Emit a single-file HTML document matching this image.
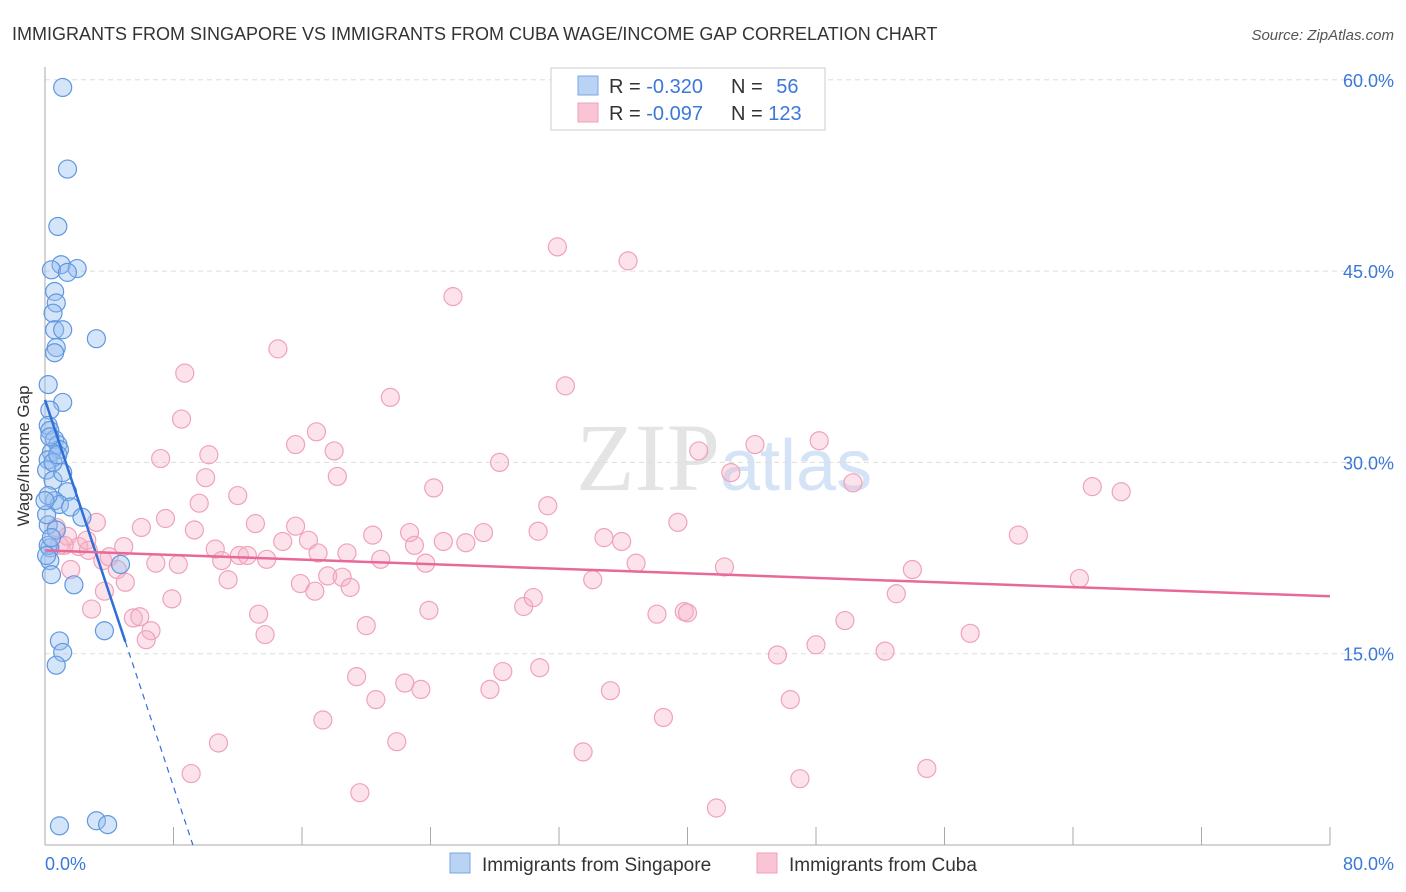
<!DOCTYPE html>
<html><head><meta charset="utf-8"><style>
body{margin:0;background:#fff;font-family:"Liberation Sans",sans-serif;}
svg{display:block}
</style></head><body>
<svg id="c" width="1406" height="892" xmlns="http://www.w3.org/2000/svg">
<text x="12" y="40" font-size="18" fill="#333">IMMIGRANTS FROM SINGAPORE VS IMMIGRANTS FROM CUBA WAGE/INCOME GAP CORRELATION CHART</text>
<text x="1394" y="40" font-size="15" fill="#555" font-style="italic" text-anchor="end">Source: ZipAtlas.com</text>
<text x="720" y="490" font-size="96" fill="#e4e4e4" text-anchor="end" font-family="Liberation Serif">ZIP</text>
<text x="720" y="490" font-size="72" fill="#d4e3f5">atlas</text>
<g id="grid"></g>
<g id="marks"></g>
<text x="29" y="456" font-size="17" fill="#333" text-anchor="middle" transform="rotate(-90 29 456)">Wage/Income Gap</text>
<text x="45" y="870" font-size="18" fill="#3b78d8">0.0%</text>
<text x="1394" y="870" font-size="18" fill="#3b78d8" text-anchor="end">80.0%</text>
<g>
<rect x="551" y="68" width="274" height="62" fill="#fff" stroke="#ccc"/>
<rect x="578" y="76" width="20" height="19" fill="#b9d3f5" stroke="#7aa6e0"/>
<rect x="578" y="103" width="20" height="19" fill="#f9c4d4" stroke="#eea0b8"/>
<text x="609" y="93" font-size="20" fill="#333">R = <tspan fill="#3b78d8">-0.320</tspan></text>
<text x="731" y="93" font-size="20" fill="#333">N = <tspan fill="#3b78d8" dx="8">56</tspan></text>
<text x="609" y="120" font-size="20" fill="#333">R = <tspan fill="#3b78d8">-0.097</tspan></text>
<text x="731" y="120" font-size="20" fill="#333">N = <tspan fill="#3b78d8">123</tspan></text>
</g>
<g>
<rect x="450" y="853" width="20" height="20" fill="#b9d3f5" stroke="#7aa6e0"/>
<text x="482" y="871" font-size="19" fill="#333">Immigrants from Singapore</text>
<rect x="757" y="853" width="20" height="20" fill="#f9c4d4" stroke="#eea0b8"/>
<text x="789" y="871" font-size="19" fill="#333">Immigrants from Cuba</text>
</g>
</svg>
<script>
const yTicks=[15,30,45,60];
const yTickLabels=["15.0%","30.0%","45.0%","60.0%"];
const xTicks=[0,8,16,24,32,40,48,56,64,72,80];
const blueX=[1.1,1.4,0.8,1.0,0.4,2.0,1.4,0.6,0.7,0.5,0.6,1.1,0.7,0.6,3.2,0.2,1.1,0.3,0.2,0.3,0.6,0.8,0.9,0.4,0.2,0.1,0.5,1.4,0.6,0.9,1.6,2.3,0.2,0.7,0.3,0.3,0.4,1.8,4.7,3.7,0.9,1.1,0.7,0.9,3.2,3.9,0.2,0.1,0.2,1.1,0.5,0.3,0.8,0.1,0.4,0.0];
const blueY=[59.4,53.0,48.5,45.5,45.1,45.2,44.9,43.4,42.5,41.7,40.4,40.4,39.0,38.6,39.7,36.1,34.7,34.1,32.9,32.5,31.8,31.4,31.0,30.8,30.2,29.4,28.6,27.7,27.0,26.7,26.5,25.7,25.1,24.7,23.3,22.3,21.2,20.4,22.0,16.8,16.0,15.1,14.1,1.5,1.9,1.6,23.5,22.7,27.4,29.2,30.0,32.0,30.6,25.9,24.1,27.0];
const pinkX=[31.9,36.3,25.4,14.5,32.4,8.7,21.5,8.5,16.9,10.2,15.6,18.0,28.3,7.2,10.0,18.2,12.0,9.6,24.2,44.2,48.2,40.7,42.7,50.3,65.2,67.0,31.3,39.4,60.6,3.2,6.0,7.5,9.3,13.1,15.6,14.8,16.4,20.4,22.7,23.0,24.8,26.2,27.3,30.7,34.8,35.9,0.7,1.4,0.9,2.1,2.7,3.6,4.0,4.9,10.6,11.0,12.1,12.6,13.8,17.0,18.8,20.9,23.7,6.9,8.3,4.5,5.0,11.4,15.9,16.8,17.6,18.5,19.0,1.6,3.7,7.9,2.9,13.3,23.9,29.8,30.4,34.1,36.8,42.3,54.0,64.4,53.0,5.5,5.9,6.6,6.3,13.7,20.0,38.1,39.8,40.0,49.8,48.0,45.6,52.3,57.6,19.4,22.4,23.4,28.5,30.8,27.7,35.2,20.6,46.4,17.3,38.5,10.8,21.9,33.5,9.1,47.0,54.9,19.6,41.8,1.2,2.6];
const pinkY=[46.9,45.8,43.0,38.9,36.0,37.0,35.1,33.4,32.4,30.6,31.4,30.9,30.0,30.3,28.8,28.9,27.4,26.8,28.0,31.4,31.7,30.9,29.2,28.4,28.1,27.7,26.6,25.3,24.3,25.3,24.9,25.6,24.7,25.2,25.0,23.8,23.9,24.3,24.5,23.5,23.8,23.7,24.5,24.6,24.1,23.8,24.9,24.2,23.5,23.4,23.1,22.3,22.6,23.4,23.2,22.3,22.7,22.7,22.4,22.9,22.9,22.4,22.1,22.1,22.0,21.6,20.6,20.8,20.5,19.9,21.1,21.0,20.2,21.6,19.9,19.3,18.5,18.1,18.4,18.7,19.4,20.8,22.1,21.8,21.6,20.9,19.7,17.8,17.9,16.8,16.1,16.5,17.2,18.1,18.3,18.2,17.6,15.7,14.9,15.2,16.6,13.2,12.7,12.2,13.6,13.9,12.2,12.1,11.4,11.4,9.8,10.0,8.0,8.1,7.3,5.6,5.2,6.0,4.1,2.9,23.5,23.9];
const blueTrend=[34.9,-3.79]; // intercept, slope
const pinkTrend=[23.1,19.5]; // y at x=0, y at x=80
const X0=45,X1=1330,Y0=845,YS=191.3/15;
const sx=v=>X0+(X1-X0)*v/80, sy=v=>Y0-v*YS;
const NS="http://www.w3.org/2000/svg";
function mk(tag,attrs,parent){const e=document.createElementNS(NS,tag);for(const k in attrs)e.setAttribute(k,attrs[k]);parent.appendChild(e);return e;}
const grid=document.getElementById('grid'),marks=document.getElementById('marks');
yTicks.forEach((t,i)=>{
 const l=mk('line',{x1:X0,x2:1394,y1:sy(t),y2:sy(t),stroke:'#ddd','stroke-dasharray':'5,4'},grid);
 
 
 const tx=mk('text',{x:1394,y:sy(t)+7,'font-size':18,fill:'#3b78d8','text-anchor':'end'},grid);
 tx.textContent=yTickLabels[i];
 
 
});
const ax=mk('line',{x1:X0,x2:X0,y1:67,y2:Y0,stroke:'#aaa'},grid);


const bx=mk('line',{x1:X0,x2:X1,y1:Y0,y2:Y0,stroke:'#aaa'},grid);


xTicks.forEach(t=>{
 const l=mk('line',{x1:sx(t),x2:sx(t),y1:Y0,y2:Y0-18,stroke:'#aaa'},grid);
 
 
});
pinkX.forEach((x,i)=>{
 const c=mk('circle',{cx:sx(x),cy:sy(pinkY[i]),r:9,fill:'rgba(246,176,198,0.35)',stroke:'#f0a2ba','stroke-width':1.2},marks);
 
 
});
blueX.forEach((x,i)=>{
 const c=mk('circle',{cx:sx(x),cy:sy(blueY[i]),r:9,fill:'rgba(150,190,240,0.4)',stroke:'#5f97e0','stroke-width':1.2},marks);
 
 
});
const bEnd=-blueTrend[0]/blueTrend[1];
const bs=mk('line',{x1:sx(0),y1:sy(blueTrend[0]),x2:sx(5),y2:sy(blueTrend[0]+blueTrend[1]*5),stroke:'#2f6fd6','stroke-width':2.5},marks);


const bd=mk('line',{x1:sx(5),y1:sy(blueTrend[0]+blueTrend[1]*5),x2:sx(bEnd),y2:sy(0),stroke:'#2f6fd6','stroke-width':1.2,'stroke-dasharray':'6,5'},marks);


const pt=mk('line',{x1:sx(0),y1:sy(pinkTrend[0]),x2:sx(80),y2:sy(pinkTrend[1]),stroke:'#e8689a','stroke-width':2.5},marks);


</script>
</body></html>
